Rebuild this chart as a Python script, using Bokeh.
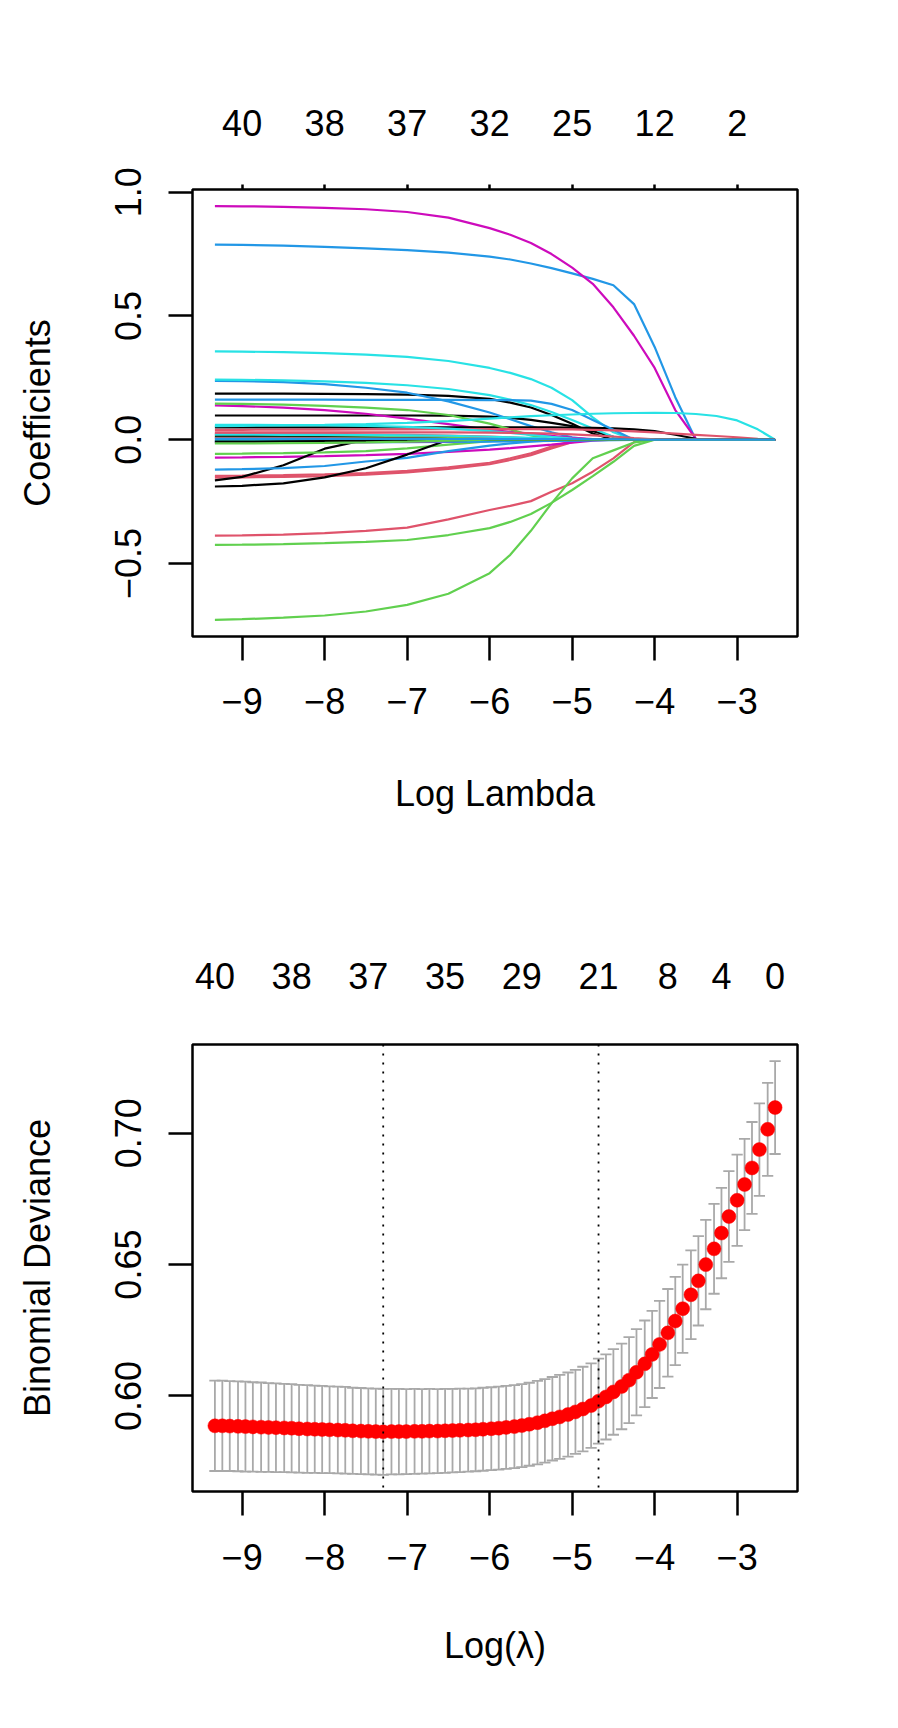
from bokeh.plotting import figure
from bokeh.models import LinearAxis, FixedTicker, Range1d, Span
from bokeh.layouts import column
from bokeh.embed import file_html
from bokeh.resources import INLINE

FONT = "Liberation Sans"
FS = "36px"

# ---------------- top panel: coefficient paths ----------------
path_loglam = [-9.33, -9.0, -8.5, -8.0, -7.5, -7.0, -6.5, -6.0, -5.75, -5.5, -5.25,
               -5.0, -4.75, -4.5, -4.25, -4.0, -3.75, -3.5, -3.25, -3.0, -2.75, -2.54]

V01 = [0.186, 0.186, 0.186, 0.185, 0.184, 0.182, 0.177, 0.165, 0.150, 0.130, 0.100, 0.065, 0.025, 0, 0, 0, 0, 0, 0, 0, 0, 0]
V02 = [-0.387, -0.386, -0.383, -0.377, -0.368, -0.355, -0.322, -0.284, -0.267, -0.248, -0.210, -0.176, -0.129, -0.075, -0.010, 0, 0, 0, 0, 0, 0, 0]
V03 = [-0.728, -0.725, -0.719, -0.710, -0.694, -0.667, -0.622, -0.539, -0.465, -0.368, -0.257, -0.156, -0.075, -0.043, -0.011, 0, 0, 0, 0, 0, 0, 0]
V04 = [0.788, 0.787, 0.784, 0.779, 0.773, 0.766, 0.756, 0.740, 0.728, 0.712, 0.693, 0.672, 0.650, 0.624, 0.548, 0.375, 0.172, 0, 0, 0, 0, 0]
V05 = [0.357, 0.356, 0.354, 0.350, 0.344, 0.335, 0.318, 0.290, 0.270, 0.245, 0.210, 0.160, 0.090, 0.030, 0, 0, 0, 0, 0, 0, 0, 0]
V06 = [0.944, 0.943, 0.941, 0.937, 0.931, 0.920, 0.897, 0.855, 0.828, 0.795, 0.750, 0.695, 0.630, 0.535, 0.420, 0.290, 0.120, 0.004, 0, 0, 0, 0]
V07 = [0.098, 0.098, 0.098, 0.098, 0.098, 0.098, 0.097, 0.093, 0.088, 0.080, 0.068, 0.055, 0.035, 0.012, 0, 0, 0, 0, 0, 0, 0, 0]
V08 = [-0.153, -0.152, -0.150, -0.147, -0.141, -0.132, -0.118, -0.099, -0.082, -0.062, -0.035, -0.010, 0, 0, 0, 0, 0, 0, 0, 0, 0, 0]
V09 = [-0.425, -0.424, -0.422, -0.418, -0.413, -0.405, -0.385, -0.357, -0.332, -0.300, -0.255, -0.203, -0.147, -0.089, -0.025, 0, 0, 0, 0, 0, 0, 0]
V10 = [0.238, 0.237, 0.233, 0.225, 0.210, 0.190, 0.155, 0.110, 0.083, 0.055, 0.030, 0.010, 0, 0, 0, 0, 0, 0, 0, 0, 0, 0]
V11 = [0.243, 0.242, 0.240, 0.236, 0.230, 0.220, 0.205, 0.180, 0.162, 0.140, 0.112, 0.080, 0.045, 0.012, 0, 0, 0, 0, 0, 0, 0, 0]
V12 = [0.139, 0.136, 0.130, 0.120, 0.105, 0.085, 0.063, 0.040, 0.032, 0.025, 0.016, 0.008, 0.003, 0, 0, 0, 0, 0, 0, 0, 0, 0]
V13 = [0.050, 0.050, 0.050, 0.050, 0.050, 0.050, 0.050, 0.050, 0.050, 0.050, 0.050, 0.049, 0.048, 0.046, 0.042, 0.035, 0.020, 0.004, 0, 0, 0, 0]
V14 = [-0.146, -0.145, -0.143, -0.140, -0.135, -0.126, -0.112, -0.093, -0.075, -0.055, -0.028, -0.005, 0, 0, 0, 0, 0, 0, 0, 0, 0, 0]
V15 = [0.146, 0.145, 0.142, 0.137, 0.130, 0.120, 0.100, 0.065, 0.042, 0.017, 0.003, 0, 0, 0, 0, 0, 0, 0, 0, 0, 0, 0]
V16 = [0.162, 0.162, 0.162, 0.162, 0.161, 0.161, 0.161, 0.160, 0.160, 0.158, 0.145, 0.120, 0.080, 0.040, 0, 0, 0, 0, 0, 0, 0, 0]
V17 = [0.055, 0.056, 0.058, 0.060, 0.063, 0.068, 0.075, 0.085, 0.090, 0.095, 0.099, 0.102, 0.105, 0.107, 0.108, 0.109, 0.108, 0.104, 0.096, 0.078, 0.042, 0]
V18 = [-0.072, -0.071, -0.069, -0.066, -0.062, -0.057, -0.049, -0.040, -0.034, -0.027, -0.020, -0.012, -0.004, 0, 0, 0, 0, 0, 0, 0, 0, 0]
V19 = [-0.164, -0.150, -0.103, -0.036, 0, 0, 0, 0, 0, 0, 0, 0, 0, 0, 0, 0, 0, 0, 0, 0, 0, 0]
V20 = [0.040, 0.040, 0.041, 0.041, 0.042, 0.042, 0.043, 0.043, 0.043, 0.043, 0.042, 0.042, 0.040, 0.038, 0.034, 0.030, 0.025, 0.020, 0.015, 0.010, 0.004, 0]
V21 = [-0.057, -0.056, -0.054, -0.051, -0.046, -0.035, -0.020, -0.006, 0, 0, 0, 0, 0, 0, 0, 0, 0, 0, 0, 0, 0, 0]
V22 = [-0.121, -0.119, -0.115, -0.106, -0.088, -0.073, -0.046, -0.024, -0.015, -0.008, -0.003, 0, 0, 0, 0, 0, 0, 0, 0, 0, 0, 0]
V23 = [0.060, 0.060, 0.059, 0.058, 0.056, 0.052, 0.045, 0.035, 0.028, 0.020, 0.012, 0.005, 0.001, 0, 0, 0, 0, 0, 0, 0, 0, 0]
V24 = [0.022, 0.022, 0.021, 0.020, 0.018, 0.015, 0.011, 0.007, 0.005, 0.003, 0.001, 0, 0, 0, 0, 0, 0, 0, 0, 0, 0, 0]
V25 = [-0.189, -0.186, -0.176, -0.152, -0.115, -0.060, 0, 0, 0, 0, 0, 0, 0, 0, 0, 0, 0, 0, 0, 0, 0, 0]
V26 = [0.025, 0.025, 0.025, 0.024, 0.022, 0.020, 0.017, 0.013, 0.010, 0.006, 0.002, 0, 0, 0, 0, 0, 0, 0, 0, 0, 0, 0]
V27 = [0.015, 0.015, 0.015, 0.014, 0.013, 0.011, 0.008, 0.004, 0.002, 0, 0, 0, 0, 0, 0, 0, 0, 0, 0, 0, 0, 0]
V28 = [-0.010, -0.010, -0.010, -0.010, -0.010, -0.010, -0.009, -0.008, -0.007, -0.006, -0.005, -0.003, -0.001, 0, 0, 0, 0, 0, 0, 0, 0, 0]
V29 = [0.020, 0.020, 0.020, 0.020, 0.019, 0.018, 0.016, 0.012, 0.010, 0.008, 0.005, 0.002, 0, 0, 0, 0, 0, 0, 0, 0, 0, 0]
V30 = [-0.012, -0.012, -0.012, -0.011, -0.010, -0.008, -0.006, -0.004, -0.003, -0.002, -0.001, 0, 0, 0, 0, 0, 0, 0, 0, 0, 0, 0]
V31 = [0.012, 0.012, 0.011, 0.010, 0.008, 0.006, 0.003, 0, 0, 0, 0, 0, 0, 0, 0, 0, 0, 0, 0, 0, 0, 0]
V32 = [-0.005, -0.005, -0.004, -0.003, -0.002, -0.001, 0, 0, 0, 0, 0, 0, 0, 0, 0, 0, 0, 0, 0, 0, 0, 0]
V33 = [0.008, 0.008, 0.008, 0.007, 0.006, 0.005, 0.003, 0.001, 0, 0, 0, 0, 0, 0, 0, 0, 0, 0, 0, 0, 0, 0]
V34 = [-0.005, -0.005, -0.005, -0.005, -0.005, -0.005, -0.005, -0.005, -0.005, -0.005, -0.004, -0.004, -0.003, -0.002, -0.001, 0, 0, 0, 0, 0, 0, 0]
V35 = [-0.003, -0.003, -0.003, -0.003, -0.003, -0.002, -0.002, -0.001, 0, 0, 0, 0, 0, 0, 0, 0, 0, 0, 0, 0, 0, 0]
V36 = [0.005, 0.005, 0.005, 0.005, 0.004, 0.004, 0.003, 0.002, 0.001, 0, 0, 0, 0, 0, 0, 0, 0, 0, 0, 0, 0, 0]
V37 = [-0.008, -0.008, -0.007, -0.006, -0.005, -0.004, -0.002, 0, 0, 0, 0, 0, 0, 0, 0, 0, 0, 0, 0, 0, 0, 0]
V38 = [0.030, 0.030, 0.030, 0.030, 0.030, 0.030, 0.030, 0.029, 0.028, 0.027, 0.025, 0.022, 0.018, 0.013, 0.007, 0.002, 0, 0, 0, 0, 0, 0]
V39 = [-0.015, -0.015, -0.014, -0.013, -0.011, -0.008, -0.004, 0, 0, 0, 0, 0, 0, 0, 0, 0, 0, 0, 0, 0, 0, 0]
V40 = [0.003, 0.003, 0.003, 0.003, 0.003, 0.003, 0.003, 0.003, 0.003, 0.003, 0.003, 0.003, 0.002, 0.002, 0.001, 0, 0, 0, 0, 0, 0, 0]

coef_paths = [V01, V02, V03, V04, V05, V06, V07, V08, V09, V10,
              V11, V12, V13, V14, V15, V16, V17, V18, V19, V20,
              V21, V22, V23, V24, V25, V26, V27, V28, V29, V30,
              V31, V32, V33, V34, V35, V36, V37, V38, V39, V40]

top_ticks = [-9, -8, -7, -6, -5, -4, -3]
top_tick_labels = ["\u22129", "\u22128", "\u22127", "\u22126", "\u22125", "\u22124", "\u22123"]
top_df_labels = ["40", "38", "37", "32", "25", "12", "2"]
coef_ticks = [-0.5, 0.0, 0.5, 1.0]
coef_tick_labels = ["\u22120.5", "0.0", "0.5", "1.0"]

# ---------------- bottom panel: cross-validation ----------------
cv_loglam = [-9.33, -9.24, -9.15, -9.05, -8.96, -8.87, -8.77, -8.68, -8.59, -8.49,
             -8.40, -8.31, -8.21, -8.12, -8.03, -7.94, -7.84, -7.75, -7.66, -7.56,
             -7.47, -7.38, -7.29, -7.19, -7.10, -7.01, -6.91, -6.82, -6.73, -6.63,
             -6.54, -6.45, -6.36, -6.26, -6.17, -6.08, -5.98, -5.89, -5.80, -5.70,
             -5.61, -5.52, -5.42, -5.33, -5.24, -5.15, -5.05, -4.96, -4.87, -4.77,
             -4.68, -4.59, -4.50, -4.40, -4.31, -4.22, -4.12, -4.03, -3.94, -3.84,
             -3.75, -3.66, -3.56, -3.47, -3.38, -3.28, -3.19, -3.10, -3.00, -2.91,
             -2.82, -2.73, -2.63, -2.54]
cv_mean = [0.5886, 0.5886, 0.5885, 0.5884, 0.5883, 0.5882, 0.5881, 0.5880, 0.5879, 0.5878,
           0.5877, 0.5875, 0.5874, 0.5873, 0.5872, 0.5871, 0.5870, 0.5869, 0.5867, 0.5866,
           0.5865, 0.5864, 0.5863, 0.5864, 0.5864, 0.5864, 0.5865, 0.5865, 0.5866, 0.5866,
           0.5867, 0.5868, 0.5869, 0.5870, 0.5871, 0.5873, 0.5875, 0.5877, 0.5880, 0.5883,
           0.5887, 0.5892, 0.5898, 0.5905, 0.5913, 0.5920, 0.5929, 0.5939, 0.5950, 0.5963,
           0.5980, 0.5996, 0.6015, 0.6036, 0.6060, 0.6090, 0.6122, 0.6158, 0.6196, 0.6240,
           0.6285, 0.6332, 0.6385, 0.6438, 0.6500, 0.6560, 0.6620, 0.6683, 0.6745, 0.6805,
           0.6868, 0.6938, 0.7015, 0.7098]
cv_sd = [0.0172, 0.0172, 0.0171, 0.0171, 0.0171, 0.0170, 0.0170, 0.0169, 0.0169, 0.0168,
         0.0168, 0.0167, 0.0167, 0.0166, 0.0166, 0.0165, 0.0165, 0.0165, 0.0164, 0.0164,
         0.0164, 0.0164, 0.0164, 0.0163, 0.0163, 0.0162, 0.0162, 0.0161, 0.0161, 0.0160,
         0.0160, 0.0159, 0.0159, 0.0158, 0.0158, 0.0158, 0.0158, 0.0158, 0.0158, 0.0158,
         0.0158, 0.0158, 0.0159, 0.0159, 0.0159, 0.0160, 0.0160, 0.0160, 0.0161, 0.0161,
         0.0162, 0.0162, 0.0163, 0.0163, 0.0164, 0.0164, 0.0165, 0.0166, 0.0166, 0.0167,
         0.0168, 0.0168, 0.0169, 0.0170, 0.0170, 0.0171, 0.0172, 0.0173, 0.0174, 0.0174,
         0.0175, 0.0176, 0.0177, 0.0177]
loglam_min = -7.29
loglam_1se = -4.68
cv_df_positions = [-9.33, -8.40, -7.47, -6.54, -5.61, -4.68, -3.84, -3.19, -2.54]
cv_df_labels = ["40", "38", "37", "35", "29", "21", "8", "4", "0"]
dev_ticks = [0.60, 0.65, 0.70]
dev_tick_labels = ["0.60", "0.65", "0.70"]

# ---------------- styling helpers ----------------
R_PALETTE = ["black", "#DF536B", "#61D04F", "#2297E6", "#28E2E5", "#CD0BBC"]


def padded(vals):
    lo, hi = min(vals), max(vals)
    pad = 0.04 * (hi - lo)
    return Range1d(lo - pad, hi + pad)


def make_axis(ticks, labels, tick_out, standoff, title=None, title_standoff=0, vertical=False):
    ax = LinearAxis(ticker=FixedTicker(ticks=ticks),
                    major_label_overrides={t: l for t, l in zip(ticks, labels)})
    ax.axis_line_color = None
    ax.minor_tick_line_color = None
    ax.major_tick_in = 0
    ax.major_tick_out = tick_out
    ax.major_tick_line_width = 2.5
    ax.major_tick_line_color = "black" if tick_out > 0 else None
    ax.major_label_text_font = FONT
    ax.major_label_text_font_size = FS
    ax.major_label_text_color = "black"
    ax.major_label_standoff = standoff
    if vertical:
        ax.major_label_orientation = "vertical"
    if title is not None:
        ax.axis_label = title
        ax.axis_label_text_font = FONT
        ax.axis_label_text_font_size = FS
        ax.axis_label_text_font_style = "normal"
        ax.axis_label_text_color = "black"
        ax.axis_label_standoff = title_standoff
    return ax


def base_fig(x_rng, y_rng, top, bottom):
    p = figure(width=898, height=864, x_range=x_rng, y_range=y_rng,
               output_backend="svg", toolbar_location=None,
               x_axis_location=None, y_axis_location=None,
               min_border_left=192, min_border_right=101,
               min_border_top=top, min_border_bottom=bottom)
    p.grid.visible = False
    p.outline_line_color = "black"
    p.outline_line_width = 2.5
    p.outline_line_alpha = 1.0
    p.background_fill_color = "white"
    p.border_fill_color = "white"
    return p


# ---------------- top figure ----------------
all_coefs = [v for path in coef_paths for v in path]
p1 = base_fig(padded(path_loglam), padded(all_coefs), 189, 228)
p1.add_layout(make_axis(top_ticks, top_tick_labels, 24, 27, "Log Lambda", 56), "below")
p1.add_layout(make_axis(coef_ticks, coef_tick_labels, 24, 27, "Coefficients", 55, vertical=True), "left")
p1.add_layout(make_axis(top_ticks, top_df_labels, 5, 49), "above")

path_colors = [R_PALETTE[i % 6] for i in range(len(coef_paths))]
p1.multi_line(xs=[path_loglam] * len(coef_paths), ys=coef_paths,
              line_color=path_colors, line_width=2.2)

# ---------------- bottom figure ----------------
cv_up = [m + s for m, s in zip(cv_mean, cv_sd)]
cv_lo = [m - s for m, s in zip(cv_mean, cv_sd)]
p2 = base_fig(padded(cv_loglam), padded(cv_up + cv_lo), 180, 237)
p2.add_layout(make_axis(top_ticks, top_tick_labels, 24, 28, "Log(\u03bb)", 52), "below")
p2.add_layout(make_axis(dev_ticks, dev_tick_labels, 24, 27, "Binomial Deviance", 55, vertical=True), "left")
p2.add_layout(make_axis(cv_df_positions, cv_df_labels, 0, 56), "above")

barw = 0.01 * (max(cv_loglam) - min(cv_loglam))
cap_x0 = [x - barw for x in cv_loglam]
cap_x1 = [x + barw for x in cv_loglam]
p2.segment(x0=cv_loglam, y0=cv_lo, x1=cv_loglam, y1=cv_up, line_color="#A9A9A9", line_width=1.8)
p2.segment(x0=cap_x0, y0=cv_up, x1=cap_x1, y1=cv_up, line_color="#A9A9A9", line_width=1.8)
p2.segment(x0=cap_x0, y0=cv_lo, x1=cap_x1, y1=cv_lo, line_color="#A9A9A9", line_width=1.8)
p2.scatter(x=cv_loglam, y=cv_mean, size=14, fill_color="red", line_color="red", line_width=0.5)

for loc in (loglam_min, loglam_1se):
    p2.add_layout(Span(location=loc, dimension="height", line_color="black",
                       line_dash="2 7", line_width=1.8))

layout = column(p1, p2, spacing=0)
open("out.html", "w").write(file_html(layout, INLINE))
